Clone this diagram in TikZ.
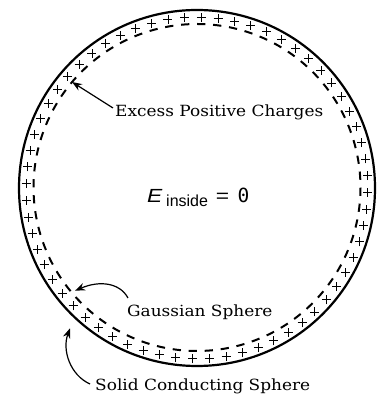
\documentclass[tikz,border=0pt]{standalone}
\usepackage{fontspec}
\newfontfamily\labfont[FakeStretch=1.1]{DejaVu Serif}
\newfontfamily\eqfont{Liberation Sans}
\newfontfamily\eqwide[FakeStretch=1.2]{Liberation Sans}
\newfontfamily\zerofont{DejaVu Sans Mono}
\usetikzlibrary{arrows.meta,calc}
\begin{document}
\begin{tikzpicture}[x=1pt,y=1pt,
  solidsphere/.style={draw,circle,line width=2.2pt,inner sep=0pt,minimum size=356pt},
  gaussseg/.style={line width=2pt},
  plusmark/.style={line width=0.9pt},
  lab/.style={font=\labfont\fontsize{15.4}{18}\selectfont,inner sep=0pt,anchor=base west},
  eqbig/.style={font=\eqfont\fontsize{19}{22}\selectfont,inner sep=0pt},
  eqsmall/.style={font=\eqfont\fontsize{16}{16}\selectfont,inner sep=0pt},
  pointer/.style={line width=1.2pt,-{Stealth[length=10pt,width=7.5pt]}}]
\useasboundingbox (0,0) rectangle (378,395);
\coordinate (C) at (197,207);
\coordinate (G) at (197,207.5);
% solid conducting sphere
\node[solidsphere] (outer) at (C) {};
% gaussian sphere (dashed)
\foreach \k [evaluate=\k as \a using 4.15+5.625*\k] in {0,...,63}
  \draw[gaussseg] (G) ++({\a-1.45}:163.5) arc[start angle=\a-1.45,end angle=\a+1.45,radius=163.5];
% excess positive charges
\foreach \k [evaluate=\k as \a using 4.15+5.625*\k] in {0,...,63}
  \draw[plusmark] (C) ++(\a:171) +(-4.5,0) -- +(4.5,0) +(0,-4.5) -- +(0,4.5);
% labels
\node[lab] (excess) at (115,278) {Excess Positive Charges};
\node[lab] (gauss) at (127,78.3) {Gaussian Sphere};
\node[lab] (solid) at (95,5) {Solid Conducting Sphere};
% equation
\node[eqbig,anchor=base west,font=\eqwide\fontsize{19}{22}\selectfont] (eE) at (147,192) {\itshape E};
\node[eqsmall,anchor=base west] (esub) at (166,188.3) {inside};
\node[eqbig,anchor=base,font=\eqwide\fontsize{19}{22}\selectfont] (eeq) at (222.5,192) {=};
\node[eqbig,anchor=base,font=\zerofont\fontsize{19.5}{22}\selectfont] (ezero) at (243.5,192) {0};
% pointer targets
\coordinate (tipE) at (72,313);
\coordinate (tipG) at (75,104.3);
\coordinate (tipS) at (70,66.7);
\draw[pointer] ($(excess.base west)+(-2,9)$) -- (tipE);
\draw[pointer] ($(gauss.base west)+(1,18.7)$) .. controls (120,112) and (100,115) .. (tipG);
\draw[pointer] ($(solid.base west)+(-5,6)$) .. controls (70,20) and (62,45) .. (tipS);
\end{tikzpicture}
\end{document}
